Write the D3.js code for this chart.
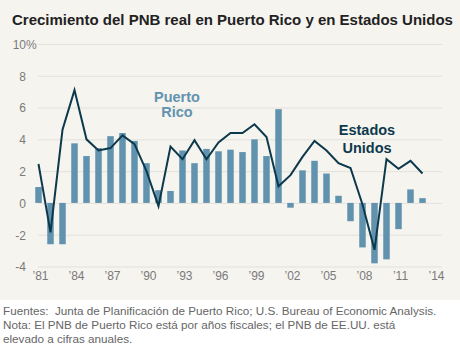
<!DOCTYPE html>
<html>
<head>
<meta charset="utf-8">
<script src="https://cdnjs.cloudflare.com/ajax/libs/d3/7.8.5/d3.min.js"></script>
<style>
  body { margin: 0; background: #fff; }
  svg { display: block; font-family: "Liberation Sans", Arial, sans-serif; }
  .grid line { stroke: #e3e1db; stroke-width: 1; }
  .tick text { fill: #7a7a7a; font-size: 12px; }
</style>
</head>
<body>
<div id="chart"></div>
<script>
// years 1981-2013, real GNP growth %
var years = d3.range(1981, 2014);
var puertoRico = [1.0, -2.6, -2.6, 3.75, 2.95, 3.45, 4.2, 4.4, 3.9, 2.5, 0.8,
    0.75, 3.3, 2.5, 3.4, 3.25, 3.35, 3.2, 4.0, 2.95, 5.9, -0.3, 2.05, 2.65,
    1.85, 0.45, -1.15, -2.8, -3.8, -3.55, -1.65, 0.85, 0.3];
var estadosUnidos = [2.45, -1.85, 4.6, 7.1, 4.0, 3.3, 3.45, 4.25, 3.7, 2.0, -0.2,
    3.55, 2.75, 3.95, 2.75, 3.8, 4.4, 4.4, 4.95, 4.15, 1.05, 1.75, 2.9, 3.9,
    3.3, 2.5, 2.2, -0.1, -2.95, 2.75, 2.15, 2.65, 1.85];
var yTicks = [-4, -2, 0, 2, 4, 6, 8, 10];
var xTicks = [1981, 1984, 1987, 1990, 1993, 1996, 1999, 2002, 2005, 2008, 2011, 2014];

var width = 460, height = 350;
var svg = d3.select("#chart").append("svg")
    .attr("width", width)
    .attr("height", height);

// beige panel
svg.append("rect")
    .attr("width", width)
    .attr("height", 300)
    .attr("fill", "#f6f4ef");

svg.append("text")
    .attr("x", 12)
    .attr("y", 25)
    .attr("fill", "#222")
    .style("font-size", "15px")
    .style("font-weight", "bold")
    .text("Crecimiento del PNB real en Puerto Rico y en Estados Unidos");

var x = d3.scaleLinear().domain([1981, 2014]).range([38.5, 434.5]);
var y = d3.scaleLinear().domain([-4, 10]).range([266.5, 44]);

/* gridlines */
svg.append("g")
    .attr("class", "grid")
    .attr("transform", "translate(38,0)")
    .call(d3.axisRight(y).tickValues(yTicks).tickSize(404).tickFormat(""))
    .call(g => g.select(".domain").remove());

/* y labels */
var yAxis = svg.append("g")
    .attr("transform", "translate(26,0)")
    .call(d3.axisLeft(y).tickValues(yTicks).tickSize(0).tickPadding(0)
        .tickFormat(d => d))
    .call(g => g.select(".domain").remove());
yAxis.selectAll(".tick text").attr("dy", "0.36em");
yAxis.selectAll(".tick").filter(d => d === 10).append("text")
    .attr("x", 0)
    .attr("dy", "0.36em")
    .attr("text-anchor", "start")
    .attr("fill", "#7a7a7a")
    .style("font-size", "12px")
    .text("%");

/* x labels */
svg.append("g")
    .attr("transform", "translate(1.5,271)")
    .call(d3.axisBottom(x).tickValues(xTicks).tickSize(0).tickPadding(0)
        .tickFormat(d => "\u2019" + String(d).slice(2)))
    .call(g => g.select(".domain").remove());

/* bars */
var barW = 6.5;
svg.append("g")
    .selectAll("rect")
    .data(years)
    .enter()
    .append("rect")
    .attr("x", d => x(d) - barW / 2)
    .attr("y", (d, i) => y(Math.max(0, puertoRico[i])))
    .attr("width", barW)
    .attr("height", (d, i) => Math.abs(y(puertoRico[i]) - y(0)))
    .attr("fill", "#6293ae");

/* line */
var line = d3.line()
    .x((d, i) => x(years[i]))
    .y(d => y(d));
svg.append("path")
    .datum(estadosUnidos)
    .attr("d", line)
    .attr("fill", "none")
    .attr("stroke", "#0d394c")
    .attr("stroke-width", 2)
    .attr("stroke-linejoin", "miter");

/* labels */
var prLabel = svg.append("text")
    .attr("text-anchor", "middle")
    .attr("fill", "#6293ae")
    .style("font-size", "14.5px")
    .style("font-weight", "bold");
prLabel.append("tspan").attr("x", 177).attr("y", 102).text("Puerto");
prLabel.append("tspan").attr("x", 177).attr("y", 117).text("Rico");

var usLabel = svg.append("text")
    .attr("text-anchor", "middle")
    .attr("fill", "#0d394c")
    .style("font-size", "14.5px")
    .style("font-weight", "bold");
usLabel.append("tspan").attr("x", 367).attr("y", 135).text("Estados");
usLabel.append("tspan").attr("x", 367).attr("y", 153).text("Unidos");

/* notes */
var notes = [
    "Fuentes:\u00a0 Junta de Planificación de Puerto Rico; U.S. Bureau of Economic Analysis.",
    "Nota: El PNB de Puerto Rico está por años fiscales; el PNB de EE.UU. está",
    "elevado a cifras anuales."
];
svg.append("g")
    .selectAll("text")
    .data(notes)
    .enter()
    .append("text")
    .attr("x", 3)
    .attr("y", (d, i) => 315 + i * 14)
    .attr("fill", "#666")
    .style("font-size", "11.7px")
    .text(d => d);
</script>
</body>
</html>
